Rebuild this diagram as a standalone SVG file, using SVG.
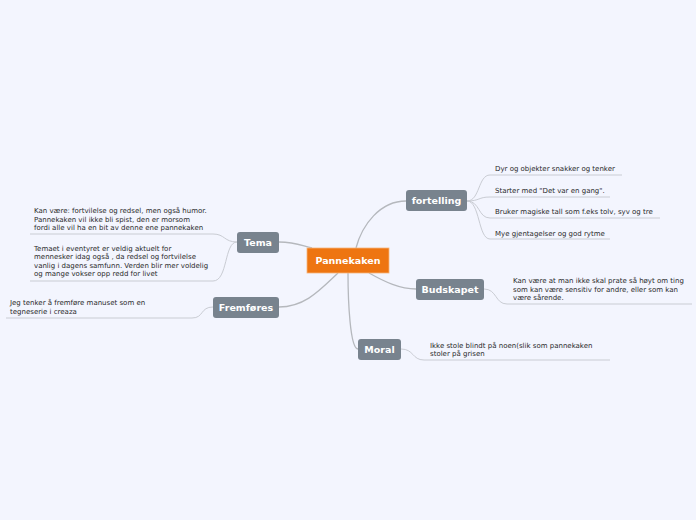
<svg xmlns="http://www.w3.org/2000/svg" width="696" height="520" viewBox="0 0 696 520">
<style>
.main{fill:#78838e;}
.mt{font-family:"DejaVu Sans",Verdana,sans-serif;font-size:9.5px;font-weight:bold;fill:#ffffff;text-anchor:middle;}
.lt{font-family:"DejaVu Sans",Verdana,sans-serif;font-size:7px;fill:#2a2a2a;}
.c1{fill:none;stroke:#b5b8bd;stroke-width:1.3;}
.c2{fill:none;stroke:#c9ccd3;stroke-width:1;}
</style>
<rect width="696" height="520" fill="#f3f5fe"/>
<g id="connectors">
<path class="c1" d="M356,248 C362,225 380,201 406,201"/>
<path class="c1" d="M279,242 C295,242 300,245 312,248"/>
<path class="c1" d="M279,307 C305,307 320,290 338,273"/>
<path class="c1" d="M369,273 C385,282 400,289 416,289"/>
<path class="c1" d="M348,273 C348,300 350,349 358,349"/>
<path class="c2" d="M467,201 C480,201 478,175 490,175 L622,175"/>
<path class="c2" d="M467,201 C480,201 478,197 490,197 L610,197"/>
<path class="c2" d="M467,201 C480,201 478,218 490,218 L660,218"/>
<path class="c2" d="M467,201 C480,201 478,239 490,239 L610,239"/>
<path class="c2" d="M484,289 C497,289 495,304 507,304 L692,304"/>
<path class="c2" d="M401,349 C414,349 412,360 424,360 L610,360"/>
<path class="c2" d="M237,242 C224,242 225,234 213,234 L30,234"/>
<path class="c2" d="M237,242 C224,242 228,281 213,281 L30,281"/>
<path class="c2" d="M213,307 C200,307 204,318 192,318 L6,318"/>
</g>
<g id="pannekaken">
<rect x="307" y="248" width="82" height="25" fill="#ee7511" stroke="#f6b47c" stroke-width="0.8"/>
<text class="mt" x="348" y="264.3">Pannekaken</text>
</g>
<g id="fortelling">
<rect class="main" x="406" y="190" width="61" height="21" rx="3"/>
<text class="mt" x="436.5" y="204">fortelling</text>
</g>
<g id="budskapet">
<rect class="main" x="416" y="279" width="68" height="21" rx="3"/>
<text class="mt" x="450" y="293">Budskapet</text>
</g>
<g id="moral">
<rect class="main" x="358" y="339" width="43" height="21" rx="3"/>
<text class="mt" x="379.5" y="353">Moral</text>
</g>
<g id="tema">
<rect class="main" x="237" y="232" width="42" height="21" rx="3"/>
<text class="mt" x="258" y="246">Tema</text>
</g>
<g id="fremfores">
<rect class="main" x="213" y="297" width="66" height="21" rx="3"/>
<text class="mt" x="246" y="311">Fremføres</text>
</g>
<g id="leaf-f1"><text class="lt" x="495" y="171">Dyr og objekter snakker og tenker</text></g>
<g id="leaf-f2"><text class="lt" x="495" y="193">Starter med "Det var en gang".</text></g>
<g id="leaf-f3"><text class="lt" x="495" y="214">Bruker magiske tall som f.eks tolv, syv og tre</text></g>
<g id="leaf-f4"><text class="lt" x="495" y="236">Mye gjentagelser og god rytme</text></g>
<g id="leaf-b1"><text class="lt" x="513"><tspan x="513" y="283">Kan være at man ikke skal prate så høyt om ting</tspan><tspan x="513" y="291.5">som kan være sensitiv for andre, eller som kan</tspan><tspan x="513" y="300">være sårende.</tspan></text></g>
<g id="leaf-m1"><text class="lt" x="430"><tspan x="430" y="347.5">Ikke stole blindt på noen(slik som pannekaken</tspan><tspan x="430" y="356">stoler på grisen</tspan></text></g>
<g id="leaf-t1"><text class="lt" x="34"><tspan x="34" y="213">Kan være: fortvilelse og redsel, men også humor.</tspan><tspan x="34" y="221.5">Pannekaken vil ikke bli spist, den er morsom</tspan><tspan x="34" y="230">fordi alle vil ha en bit av denne ene pannekaken</tspan></text></g>
<g id="leaf-t2"><text class="lt" x="34"><tspan x="34" y="250.5">Temaet i eventyret er veldig aktuelt for</tspan><tspan x="34" y="259">mennesker idag også , da redsel og fortvilelse</tspan><tspan x="34" y="267.5">vanlig i dagens samfunn. Verden blir mer voldelig</tspan><tspan x="34" y="276">og mange vokser opp redd for livet</tspan></text></g>
<g id="leaf-fr1"><text class="lt" x="10"><tspan x="10" y="305">Jeg tenker å fremføre manuset som en</tspan><tspan x="10" y="313.5">tegneserie i creaza</tspan></text></g>
</svg>
